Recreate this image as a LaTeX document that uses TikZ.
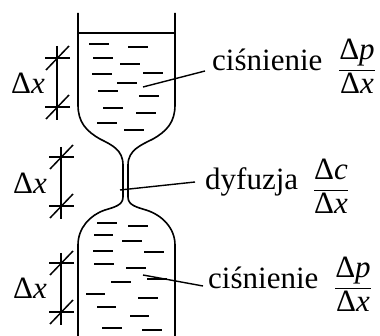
\documentclass[tikz,border=0pt]{standalone}
\usepackage{fontspec}
\setmainfont{Liberation Serif}
\newfontfamily\tms{Liberation Serif}
\begin{document}
\begin{tikzpicture}[x=1pt,y=-1pt,
  wall/.style={line width=1.6pt, line join=round},
  dashmark/.style={line width=1.8pt},
  dim/.style={line width=1.5pt},
  leader/.style={line width=1.4pt},
  lbl/.style={font=\tms\fontsize{31}{36}\selectfont, inner sep=0pt},
  frac/.style={font=\tms\fontsize{31}{36}\selectfont, inner sep=0pt}]
\useasboundingbox (0,0) rectangle (380,336);

% vessel outline: upper chamber, narrow neck, lower chamber
\draw[wall] (78,13) -- (78,105)
  .. controls (78,122) and (86,131) .. (100,139)
  .. controls (112,145) and (123,150) .. (123,165) -- (123,197)
  .. controls (123,205) and (115,207) .. (105,210)
  .. controls (90,215) and (78,228) .. (78,245) -- (78,340);
\draw[wall] (175,13) -- (175,105)
  .. controls (175,122) and (167,131) .. (153,139)
  .. controls (141,145) and (128,150) .. (128,165) -- (128,197)
  .. controls (128,205) and (136,207) .. (146,210)
  .. controls (162,215) and (175,228) .. (175,245) -- (175,340);
% liquid surface
\draw[wall] (78,33) -- (175,33);

% liquid hatching, upper chamber
\foreach \a/\b/\y in {89/109/44, 128/148/47, 93/113/58, 120/140/64, 92/112/74,
  143/163/73, 117/137/83, 98/118/91, 139/159/96, 103/123/108, 136/156/113,
  97/117/123, 124/144/130}
  \draw[dashmark] (\a,\y) -- (\b,\y);
% liquid hatching, lower chamber
\foreach \a/\b/\y in {97/117/223, 128/148/226, 94/113/235, 122/142/241, 93/113/251,
  144/164/252, 94/114/264, 126/146/268, 111/131/282, 147/167/279, 86/105/294,
  138/158/298, 97/116/307, 130/149/316, 102/122/328, 142/162/330}
  \draw[dashmark] (\a,\y) -- (\b,\y);

% dimension marks
\newcommand{\tickmark}[1]{%
  \draw[dim] (#1) ++(-12,0) -- ++(25,0);
  \draw[dim] (#1) ++(-11,12) -- ++(23,-24);}
\coordinate (u1) at (57,58);  \coordinate (u2) at (57,107);
\coordinate (m1) at (61,157); \coordinate (m2) at (61,206);
\coordinate (l1) at (61,263); \coordinate (l2) at (61,312);
\draw[dim] (57,46) -- (57,120);
\draw[dim] (61,147) -- (61,219);
\draw[dim] (61,253) -- (61,325);
\tickmark{u1}\tickmark{u2}
\tickmark{m1}\tickmark{m2}
\tickmark{l1}\tickmark{l2}
\node[lbl, anchor=base] (dxu) at (28,94) {Δ\textit{x}};
\node[lbl, anchor=base] (dxm) at (30,194) {Δ\textit{x}};
\node[lbl, anchor=base] (dxl) at (30,299) {Δ\textit{x}};

% labels on the right
\node[lbl, anchor=base west] (t1) at (212,71) {ciśnienie};
\node[lbl, anchor=base west] (t2) at (205,190) {dyfuzja};
\node[lbl, anchor=base west] (t3) at (208,289) {ciśnienie};
\node[frac] (f1) at (357,66) {$\displaystyle\frac{\mbox{Δ\textit{p}}}{\mbox{Δ\textit{x}}}$};
\node[frac] (f2) at (331,186) {$\displaystyle\frac{\mbox{Δ\textit{c}}}{\mbox{Δ\textit{x}}}$};
\node[frac] (f3) at (353,284) {$\displaystyle\frac{\mbox{Δ\textit{p}}}{\mbox{Δ\textit{x}}}$};

% leader lines
\coordinate (p1) at (143,87);
\coordinate (p2) at (120,190);
\coordinate (p3) at (143,275);
\draw[leader] (p1) -- ([shift={(-7,0)}]t1.base west);
\draw[leader] (p2) -- ([shift={(-10,-8)}]t2.base west);
\draw[leader] (p3) -- ([shift={(-5,-3)}]t3.base west);
\end{tikzpicture}
\end{document}
